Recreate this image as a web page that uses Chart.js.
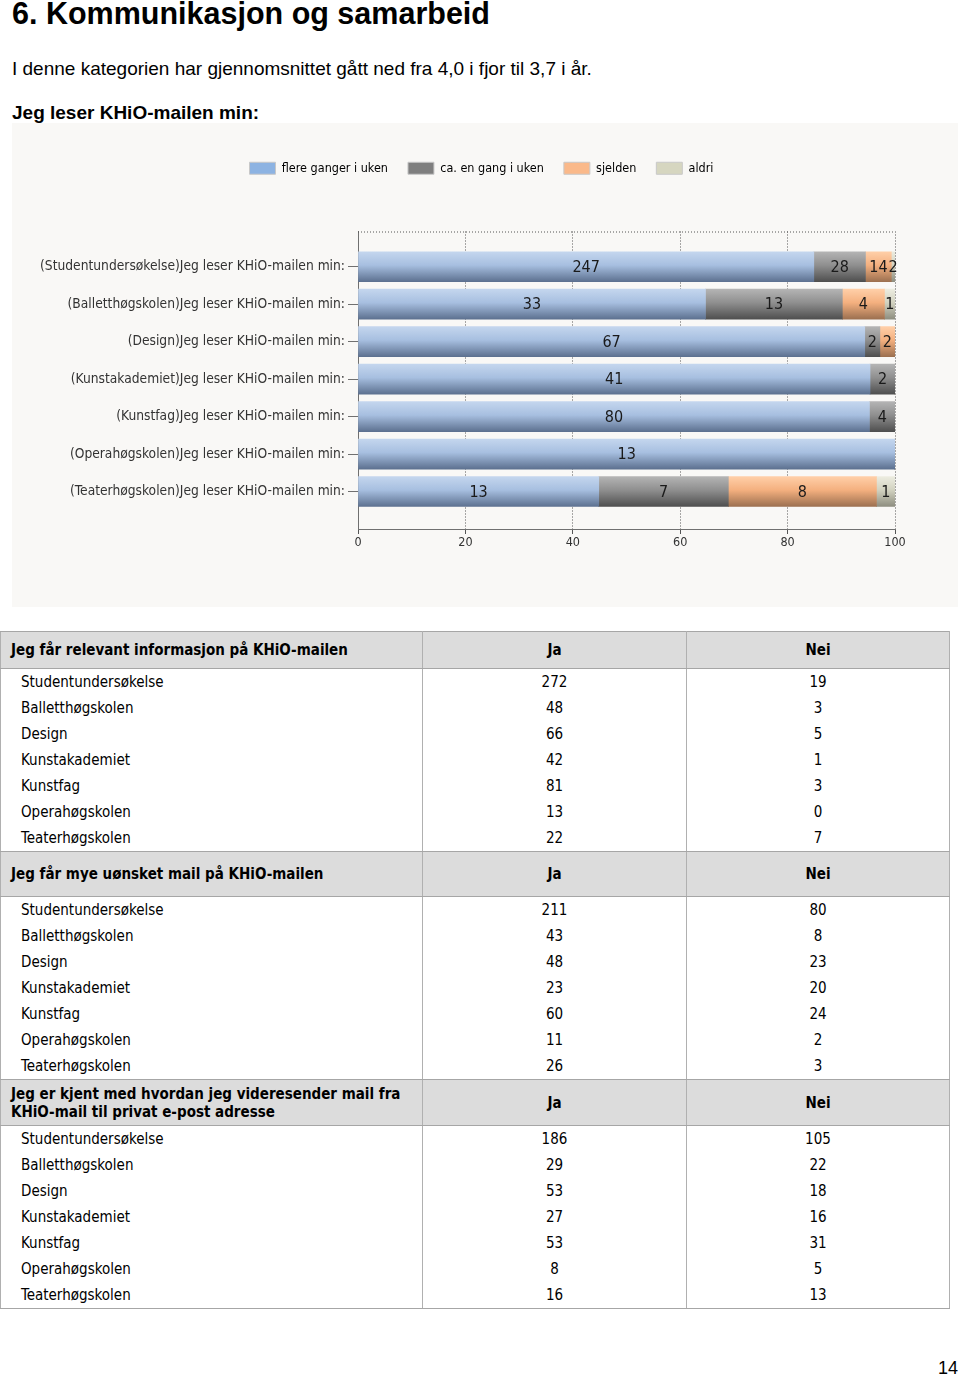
<!DOCTYPE html>
<html>
<head>
<meta charset="utf-8">
<script src="https://cdn.jsdelivr.net/npm/chart.js@4/dist/chart.umd.min.js"></script>
<style>
  body { margin: 0; background: #fff; width: 960px; height: 1376px; position: relative; overflow: hidden; }
  .t { position: absolute; left: 12px; font-family: "Liberation Sans", Arial, sans-serif; color: #000; white-space: nowrap; }
  #title { top: -2px; font-size: 30.5px; line-height: 30px; font-weight: bold; }
  #intro { top: 59px; font-size: 19px; line-height: 19px; }
  #q1 { top: 103px; font-size: 19px; line-height: 19px; font-weight: bold; }
  #panel { position: absolute; left: 12px; top: 123px; width: 946px; height: 484px; background: #f9f8f6; }
  #tbl { position: absolute; left: 0; top: 631px; width: 950px; border-collapse: collapse;
         font-family: "DejaVu Sans Condensed", "DejaVu Sans", sans-serif; font-size: 15px; color: #000; }
  #tbl td { padding: 0; border-left: 1px solid #b0b0b0; border-right: 1px solid #b0b0b0; }
  #tbl td.n { text-align: center; }
  #tbl td.lab { padding-left: 20px; }
  #tbl tr.row td { height: 26px; }
  #tbl tr.head td { background: #dcdcdc; font-weight: bold; border-top: 1px solid #a6a6a6; border-bottom: 1px solid #a6a6a6; line-height: 18px; }
  #tbl tr.head td.lab { padding-left: 10px; }
  #tbl tr.last td { border-bottom: 1px solid #a6a6a6; }
  #page { position: absolute; right: 2px; top: 1358px; font-family: "Liberation Sans", Arial, sans-serif; font-size: 18px; }
</style>
</head>
<body>
<div class="t" id="title">6. Kommunikasjon og samarbeid</div>
<div class="t" id="intro">I denne kategorien har gjennomsnittet gått ned fra 4,0 i fjor til 3,7 i år.</div>
<div class="t" id="q1">Jeg leser KHiO-mailen min:</div>
<div id="panel"><canvas id="mailChart" width="946" height="484"></canvas></div>
<table id="tbl"></table>
<div id="page">14</div>

<script>
// chart data (counts per answer)
const schools = ["Studentundersøkelse", "Balletthøgskolen", "Design", "Kunstakademiet",
                 "Kunstfag", "Operahøgskolen", "Teaterhøgskolen"];
const answerLabels = ["flere ganger i uken", "ca. en gang i uken", "sjelden", "aldri"];
const flereGanger = [247, 33, 67, 41, 80, 13, 13];
const enGang      = [28, 13, 2, 2, 4, 0, 7];
const sjelden     = [14, 4, 2, 0, 0, 0, 8];
const aldri       = [2, 1, 0, 0, 0, 0, 1];
const xTicks = [0, 20, 40, 60, 80, 100];

// table data
const q2Title = "Jeg får relevant informasjon på KHiO-mailen";
const q2Ja  = [272, 48, 66, 42, 81, 13, 22];
const q2Nei = [19, 3, 5, 1, 3, 0, 7];
const q3Title = "Jeg får mye uønsket mail på KHiO-mailen";
const q3Ja  = [211, 43, 48, 23, 60, 11, 26];
const q3Nei = [80, 8, 23, 20, 24, 2, 3];
const q4Title = "Jeg er kjent med hvordan jeg videresender mail fra<br>KHiO-mail til privat e-post adresse";
const q4Ja  = [186, 29, 53, 27, 53, 8, 16];
const q4Nei = [105, 22, 18, 16, 31, 5, 13];

const series = [flereGanger, enGang, sjelden, aldri];
const totals = schools.map((s, i) => series.reduce((a, arr) => a + arr[i], 0));
const rowLabels = schools.map(s => "(" + s + ")Jeg leser KHiO-mailen min:");

const legendColors = ["#8db3e2", "#7f7f7f", "#fab98a", "#d6d6c0"];
const gradStops = [
    ["#c4d6ee", "#a7bfe0", "#5d7190"],
    ["#b4b4b4", "#8f8f8f", "#4f4f4f"],
    ["#ffcfa8", "#f4b07f", "#9c7050"],
    ["#ecece0", "#d2d2c0", "#8e8e80"]
];

function barFill(si) {
    return function(ctx) {
        const chart = ctx.chart;
        if (!chart.chartArea || !chart.scales.y) return legendColors[si];
        const y = chart.scales.y.getPixelForValue(ctx.dataIndex);
        const g = chart.ctx.createLinearGradient(0, y - 15, 0, y + 15);
        g.addColorStop(0, gradStops[si][0]);
        g.addColorStop(0.45, gradStops[si][1]);
        g.addColorStop(1, gradStops[si][2]);
        return g;
    };
}

const font = "'DejaVu Sans Condensed', 'DejaVu Sans', sans-serif";

const valueLabels = {
    id: "valueLabels",
    afterDatasetsDraw(chart) {
        const c = chart.ctx;
        c.save();
        c.font = "16px " + font;
        c.fillStyle = "#1a1a1a";
        c.textAlign = "center";
        c.textBaseline = "middle";
        chart.data.datasets.forEach((ds, di) => {
            chart.getDatasetMeta(di).data.forEach((el, i) => {
                const n = series[di][i];
                if (!n) return;
                c.fillText(String(n), (el.x + el.base) / 2, el.y + 1);
            });
        });
        c.restore();
    }
};

const topLine = {
    id: "topLine",
    afterDraw(chart) {
        const a = chart.chartArea, c = chart.ctx;
        c.save();
        c.strokeStyle = "#555";
        c.lineWidth = 1;
        c.setLineDash([1, 2]);
        c.beginPath();
        c.moveTo(a.left, a.top + 0.5);
        c.lineTo(a.right, a.top + 0.5);
        c.stroke();
        c.restore();
    }
};

// more room under the legend, and centre it on the whole panel
const legendSpace = {
    id: "legendSpace",
    beforeInit(chart) {
        const fit = chart.legend.fit;
        chart.legend.fit = function() {
            fit.bind(chart.legend)();
            this.height += 47;
        };
    },
    afterLayout(chart) {
        chart.legend.left += 28;
        chart.legend.right += 28;
    }
};

new Chart(document.getElementById("mailChart"), {
    type: "bar",
    data: {
        datasets: series.map((arr, si) => ({
            label: answerLabels[si],
            data: arr.map((v, i) => ({ x: v / totals[i] * 100, y: i })),
            backgroundColor: barFill(si),
            borderWidth: 0,
            barThickness: 30
        }))
    },
    options: {
        indexAxis: "y",
        responsive: false,
        animation: false,
        layout: { padding: { top: 19, right: 63, bottom: 0, left: 0 } },
        plugins: {
            tooltip: { enabled: false },
            legend: {
                position: "top",
                labels: {
                    font: { family: font, size: 12.5 },
                    color: "#333",
                    boxWidth: 26,
                    boxHeight: 12,
                    padding: 20,
                    generateLabels(chart) {
                        return answerLabels.map((t, i) => ({
                            text: t, fillStyle: legendColors[i], strokeStyle: "#c8c8c8",
                            lineWidth: 1, datasetIndex: i, hidden: false
                        }));
                    }
                }
            }
        },
        scales: {
            x: {
                type: "linear",
                stacked: true,
                min: 0,
                max: 100,
                afterBuildTicks(s) { s.ticks = xTicks.map(v => ({ value: v })); },
                afterFit(s) { s.height = 78; },
                ticks: { font: { family: font, size: 12.5 }, color: "#333", padding: 1 },
                grid: { color: "#555", tickColor: "#555", tickLength: 5, tickBorderDash: [] },
                border: { color: "#707070", width: 1, dash: [1, 2] }
            },
            y: {
                type: "linear",
                stacked: true,
                reverse: true,
                min: -0.94,
                max: 7,
                offset: false,
                afterBuildTicks(s) { s.ticks = schools.map((_, i) => ({ value: i })); },
                afterFit(s) { s.width = 346; },
                ticks: {
                    autoSkip: false,
                    font: { family: font, size: 13.7 },
                    color: "#333",
                    padding: 3,
                    callback: v => rowLabels[v]
                },
                grid: { offset: false, drawOnChartArea: false, tickLength: 10, tickColor: "#707070" },
                border: { color: "#707070", width: 1 }
            }
        }
    },
    plugins: [valueLabels, topLine, legendSpace]
});

// table
function addBlock(title, ja, nei, headH) {
    const tbl = document.getElementById("tbl");
    let html = '<tr class="head"><td class="lab" style="width:411px;height:' + headH + 'px">' + title +
        '</td><td class="n" style="width:263px">Ja</td><td class="n">Nei</td></tr>';
    schools.forEach((s, i) => {
        html += '<tr class="row' + (i === schools.length - 1 ? ' last' : '') + '"><td class="lab">' + s +
            '</td><td class="n">' + ja[i] + '</td><td class="n">' + nei[i] + '</td></tr>';
    });
    tbl.insertAdjacentHTML("beforeend", html);
}
addBlock(q2Title, q2Ja, q2Nei, 36);
addBlock(q3Title, q3Ja, q3Nei, 44);
addBlock(q4Title, q4Ja, q4Nei, 45);
</script>
</body>
</html>
